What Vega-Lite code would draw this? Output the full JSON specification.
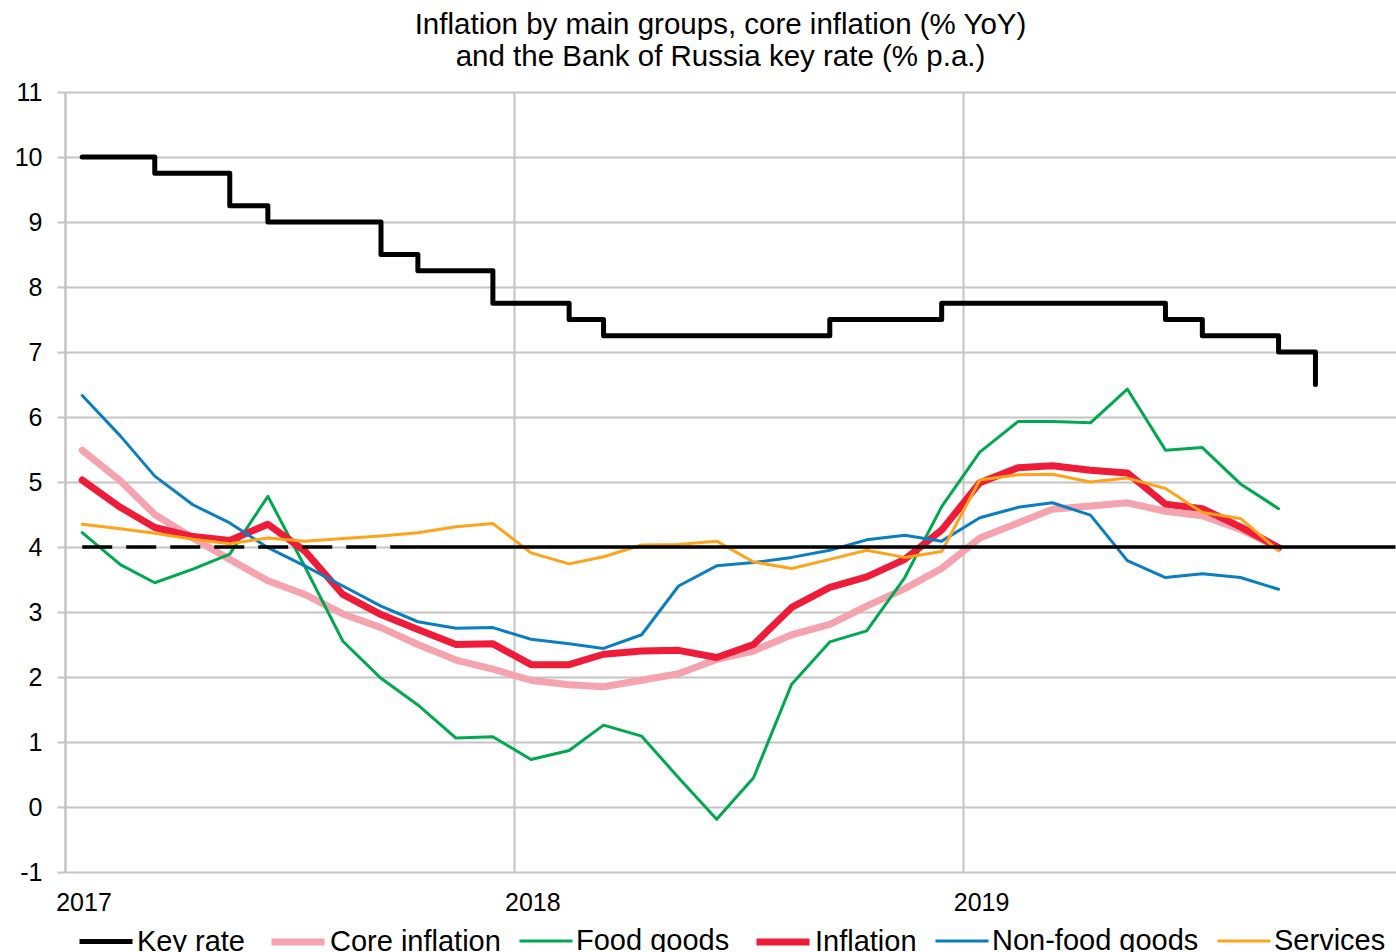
{
  "$schema": "https://vega.github.io/schema/vega-lite/v6.json",
  "autosize": {"type": "none"},
  "padding": {"left": 65, "top": 92, "right": 0, "bottom": 80},
  "width": 1331,
  "height": 780,
  "background": "white",
  "title": {
    "text": ["Inflation by main groups, core inflation (% YoY)", "and the Bank of Russia key rate (% p.a.)"],
    "font": "Liberation Sans",
    "fontSize": 29.5,
    "fontWeight": "normal",
    "color": "#000000",
    "lineHeight": 32,
    "anchor": "middle",
    "dx": -10,
    "offset": 8
  },
  "config": {
    "view": {"stroke": null},
    "axis": {"labelFont": "Liberation Sans", "labelFontSize": 25, "labelColor": "#000000", "gridColor": "#c4c4c4", "gridWidth": 2, "title": null},
    "legend": {"labelFont": "Liberation Sans", "labelFontSize": 29, "labelColor": "#000000", "labelLimit": 500}
  },
  "datasets": {
    "keyrate": [
      {"date": "2017-01-15", "series": "Key rate", "value": 10},
      {"date": "2017-02-15", "series": "Key rate", "value": 10},
      {"date": "2017-03-15", "series": "Key rate", "value": 9.75},
      {"date": "2017-04-15", "series": "Key rate", "value": 9.75},
      {"date": "2017-05-15", "series": "Key rate", "value": 9.25},
      {"date": "2017-06-15", "series": "Key rate", "value": 9},
      {"date": "2017-07-15", "series": "Key rate", "value": 9},
      {"date": "2017-08-15", "series": "Key rate", "value": 9},
      {"date": "2017-09-15", "series": "Key rate", "value": 8.5},
      {"date": "2017-10-15", "series": "Key rate", "value": 8.25},
      {"date": "2017-11-15", "series": "Key rate", "value": 8.25},
      {"date": "2017-12-15", "series": "Key rate", "value": 7.75},
      {"date": "2018-01-15", "series": "Key rate", "value": 7.75},
      {"date": "2018-02-15", "series": "Key rate", "value": 7.5},
      {"date": "2018-03-15", "series": "Key rate", "value": 7.25},
      {"date": "2018-04-15", "series": "Key rate", "value": 7.25},
      {"date": "2018-05-15", "series": "Key rate", "value": 7.25},
      {"date": "2018-06-15", "series": "Key rate", "value": 7.25},
      {"date": "2018-07-15", "series": "Key rate", "value": 7.25},
      {"date": "2018-08-15", "series": "Key rate", "value": 7.25},
      {"date": "2018-09-15", "series": "Key rate", "value": 7.5},
      {"date": "2018-10-15", "series": "Key rate", "value": 7.5},
      {"date": "2018-11-15", "series": "Key rate", "value": 7.5},
      {"date": "2018-12-15", "series": "Key rate", "value": 7.75},
      {"date": "2019-01-15", "series": "Key rate", "value": 7.75},
      {"date": "2019-02-15", "series": "Key rate", "value": 7.75},
      {"date": "2019-03-15", "series": "Key rate", "value": 7.75},
      {"date": "2019-04-15", "series": "Key rate", "value": 7.75},
      {"date": "2019-05-15", "series": "Key rate", "value": 7.75},
      {"date": "2019-06-15", "series": "Key rate", "value": 7.5},
      {"date": "2019-07-15", "series": "Key rate", "value": 7.25},
      {"date": "2019-08-15", "series": "Key rate", "value": 7.25},
      {"date": "2019-09-15", "series": "Key rate", "value": 7},
      {"date": "2019-10-15", "series": "Key rate", "value": 6.5}
    ],
    "groups": [
      {"date": "2017-01-15", "series": "Core inflation", "value": 5.49},
      {"date": "2017-02-15", "series": "Core inflation", "value": 5.02},
      {"date": "2017-03-15", "series": "Core inflation", "value": 4.5},
      {"date": "2017-04-15", "series": "Core inflation", "value": 4.14},
      {"date": "2017-05-15", "series": "Core inflation", "value": 3.81},
      {"date": "2017-06-15", "series": "Core inflation", "value": 3.48},
      {"date": "2017-07-15", "series": "Core inflation", "value": 3.27},
      {"date": "2017-08-15", "series": "Core inflation", "value": 2.97},
      {"date": "2017-09-15", "series": "Core inflation", "value": 2.76},
      {"date": "2017-10-15", "series": "Core inflation", "value": 2.5},
      {"date": "2017-11-15", "series": "Core inflation", "value": 2.26},
      {"date": "2017-12-15", "series": "Core inflation", "value": 2.12},
      {"date": "2018-01-15", "series": "Core inflation", "value": 1.95},
      {"date": "2018-02-15", "series": "Core inflation", "value": 1.88},
      {"date": "2018-03-15", "series": "Core inflation", "value": 1.85},
      {"date": "2018-04-15", "series": "Core inflation", "value": 1.95},
      {"date": "2018-05-15", "series": "Core inflation", "value": 2.05},
      {"date": "2018-06-15", "series": "Core inflation", "value": 2.27},
      {"date": "2018-07-15", "series": "Core inflation", "value": 2.4},
      {"date": "2018-08-15", "series": "Core inflation", "value": 2.65},
      {"date": "2018-09-15", "series": "Core inflation", "value": 2.81},
      {"date": "2018-10-15", "series": "Core inflation", "value": 3.09},
      {"date": "2018-11-15", "series": "Core inflation", "value": 3.36},
      {"date": "2018-12-15", "series": "Core inflation", "value": 3.67},
      {"date": "2019-01-15", "series": "Core inflation", "value": 4.14},
      {"date": "2019-02-15", "series": "Core inflation", "value": 4.37},
      {"date": "2019-03-15", "series": "Core inflation", "value": 4.58},
      {"date": "2019-04-15", "series": "Core inflation", "value": 4.63},
      {"date": "2019-05-15", "series": "Core inflation", "value": 4.68},
      {"date": "2019-06-15", "series": "Core inflation", "value": 4.55},
      {"date": "2019-07-15", "series": "Core inflation", "value": 4.48},
      {"date": "2019-08-15", "series": "Core inflation", "value": 4.27},
      {"date": "2019-09-15", "series": "Core inflation", "value": 3.99},
      {"date": "2017-01-15", "series": "Food goods", "value": 4.22},
      {"date": "2017-02-15", "series": "Food goods", "value": 3.73},
      {"date": "2017-03-15", "series": "Food goods", "value": 3.45},
      {"date": "2017-04-15", "series": "Food goods", "value": 3.66},
      {"date": "2017-05-15", "series": "Food goods", "value": 3.89},
      {"date": "2017-06-15", "series": "Food goods", "value": 4.78},
      {"date": "2017-07-15", "series": "Food goods", "value": 3.7},
      {"date": "2017-08-15", "series": "Food goods", "value": 2.55},
      {"date": "2017-09-15", "series": "Food goods", "value": 1.98},
      {"date": "2017-10-15", "series": "Food goods", "value": 1.57},
      {"date": "2017-11-15", "series": "Food goods", "value": 1.06},
      {"date": "2017-12-15", "series": "Food goods", "value": 1.08},
      {"date": "2018-01-15", "series": "Food goods", "value": 0.73},
      {"date": "2018-02-15", "series": "Food goods", "value": 0.87},
      {"date": "2018-03-15", "series": "Food goods", "value": 1.26},
      {"date": "2018-04-15", "series": "Food goods", "value": 1.09},
      {"date": "2018-05-15", "series": "Food goods", "value": 0.45},
      {"date": "2018-06-15", "series": "Food goods", "value": -0.19},
      {"date": "2018-07-15", "series": "Food goods", "value": 0.45},
      {"date": "2018-08-15", "series": "Food goods", "value": 1.89},
      {"date": "2018-09-15", "series": "Food goods", "value": 2.54},
      {"date": "2018-10-15", "series": "Food goods", "value": 2.71},
      {"date": "2018-11-15", "series": "Food goods", "value": 3.53},
      {"date": "2018-12-15", "series": "Food goods", "value": 4.62},
      {"date": "2019-01-15", "series": "Food goods", "value": 5.46},
      {"date": "2019-02-15", "series": "Food goods", "value": 5.93},
      {"date": "2019-03-15", "series": "Food goods", "value": 5.93},
      {"date": "2019-04-15", "series": "Food goods", "value": 5.91},
      {"date": "2019-05-15", "series": "Food goods", "value": 6.43},
      {"date": "2019-06-15", "series": "Food goods", "value": 5.49},
      {"date": "2019-07-15", "series": "Food goods", "value": 5.53},
      {"date": "2019-08-15", "series": "Food goods", "value": 4.97},
      {"date": "2019-09-15", "series": "Food goods", "value": 4.59},
      {"date": "2017-01-15", "series": "Inflation", "value": 5.03},
      {"date": "2017-02-15", "series": "Inflation", "value": 4.61},
      {"date": "2017-03-15", "series": "Inflation", "value": 4.3},
      {"date": "2017-04-15", "series": "Inflation", "value": 4.16},
      {"date": "2017-05-15", "series": "Inflation", "value": 4.1},
      {"date": "2017-06-15", "series": "Inflation", "value": 4.35},
      {"date": "2017-07-15", "series": "Inflation", "value": 3.94},
      {"date": "2017-08-15", "series": "Inflation", "value": 3.27},
      {"date": "2017-09-15", "series": "Inflation", "value": 2.96},
      {"date": "2017-10-15", "series": "Inflation", "value": 2.73},
      {"date": "2017-11-15", "series": "Inflation", "value": 2.5},
      {"date": "2017-12-15", "series": "Inflation", "value": 2.51},
      {"date": "2018-01-15", "series": "Inflation", "value": 2.19},
      {"date": "2018-02-15", "series": "Inflation", "value": 2.19},
      {"date": "2018-03-15", "series": "Inflation", "value": 2.35},
      {"date": "2018-04-15", "series": "Inflation", "value": 2.4},
      {"date": "2018-05-15", "series": "Inflation", "value": 2.41},
      {"date": "2018-06-15", "series": "Inflation", "value": 2.3},
      {"date": "2018-07-15", "series": "Inflation", "value": 2.5},
      {"date": "2018-08-15", "series": "Inflation", "value": 3.07},
      {"date": "2018-09-15", "series": "Inflation", "value": 3.38},
      {"date": "2018-10-15", "series": "Inflation", "value": 3.54},
      {"date": "2018-11-15", "series": "Inflation", "value": 3.81},
      {"date": "2018-12-15", "series": "Inflation", "value": 4.26},
      {"date": "2019-01-15", "series": "Inflation", "value": 4.99},
      {"date": "2019-02-15", "series": "Inflation", "value": 5.22},
      {"date": "2019-03-15", "series": "Inflation", "value": 5.25},
      {"date": "2019-04-15", "series": "Inflation", "value": 5.18},
      {"date": "2019-05-15", "series": "Inflation", "value": 5.14},
      {"date": "2019-06-15", "series": "Inflation", "value": 4.66},
      {"date": "2019-07-15", "series": "Inflation", "value": 4.59},
      {"date": "2019-08-15", "series": "Inflation", "value": 4.31},
      {"date": "2019-09-15", "series": "Inflation", "value": 3.99},
      {"date": "2017-01-15", "series": "Non-food goods", "value": 6.33},
      {"date": "2017-02-15", "series": "Non-food goods", "value": 5.71},
      {"date": "2017-03-15", "series": "Non-food goods", "value": 5.09},
      {"date": "2017-04-15", "series": "Non-food goods", "value": 4.65},
      {"date": "2017-05-15", "series": "Non-food goods", "value": 4.37},
      {"date": "2017-06-15", "series": "Non-food goods", "value": 3.99},
      {"date": "2017-07-15", "series": "Non-food goods", "value": 3.71},
      {"date": "2017-08-15", "series": "Non-food goods", "value": 3.4},
      {"date": "2017-09-15", "series": "Non-food goods", "value": 3.09},
      {"date": "2017-10-15", "series": "Non-food goods", "value": 2.85},
      {"date": "2017-11-15", "series": "Non-food goods", "value": 2.75},
      {"date": "2017-12-15", "series": "Non-food goods", "value": 2.76},
      {"date": "2018-01-15", "series": "Non-food goods", "value": 2.58},
      {"date": "2018-02-15", "series": "Non-food goods", "value": 2.51},
      {"date": "2018-03-15", "series": "Non-food goods", "value": 2.44},
      {"date": "2018-04-15", "series": "Non-food goods", "value": 2.65},
      {"date": "2018-05-15", "series": "Non-food goods", "value": 3.4},
      {"date": "2018-06-15", "series": "Non-food goods", "value": 3.71},
      {"date": "2018-07-15", "series": "Non-food goods", "value": 3.76},
      {"date": "2018-08-15", "series": "Non-food goods", "value": 3.84},
      {"date": "2018-09-15", "series": "Non-food goods", "value": 3.95},
      {"date": "2018-10-15", "series": "Non-food goods", "value": 4.11},
      {"date": "2018-11-15", "series": "Non-food goods", "value": 4.18},
      {"date": "2018-12-15", "series": "Non-food goods", "value": 4.09},
      {"date": "2019-01-15", "series": "Non-food goods", "value": 4.45},
      {"date": "2019-02-15", "series": "Non-food goods", "value": 4.61},
      {"date": "2019-03-15", "series": "Non-food goods", "value": 4.68},
      {"date": "2019-04-15", "series": "Non-food goods", "value": 4.49},
      {"date": "2019-05-15", "series": "Non-food goods", "value": 3.79},
      {"date": "2019-06-15", "series": "Non-food goods", "value": 3.53},
      {"date": "2019-07-15", "series": "Non-food goods", "value": 3.59},
      {"date": "2019-08-15", "series": "Non-food goods", "value": 3.53},
      {"date": "2019-09-15", "series": "Non-food goods", "value": 3.35},
      {"date": "2017-01-15", "series": "Services", "value": 4.35},
      {"date": "2017-02-15", "series": "Services", "value": 4.28},
      {"date": "2017-03-15", "series": "Services", "value": 4.21},
      {"date": "2017-04-15", "series": "Services", "value": 4.12},
      {"date": "2017-05-15", "series": "Services", "value": 4.05},
      {"date": "2017-06-15", "series": "Services", "value": 4.14},
      {"date": "2017-07-15", "series": "Services", "value": 4.09},
      {"date": "2017-08-15", "series": "Services", "value": 4.13},
      {"date": "2017-09-15", "series": "Services", "value": 4.17},
      {"date": "2017-10-15", "series": "Services", "value": 4.22},
      {"date": "2017-11-15", "series": "Services", "value": 4.31},
      {"date": "2017-12-15", "series": "Services", "value": 4.36},
      {"date": "2018-01-15", "series": "Services", "value": 3.91},
      {"date": "2018-02-15", "series": "Services", "value": 3.74},
      {"date": "2018-03-15", "series": "Services", "value": 3.85},
      {"date": "2018-04-15", "series": "Services", "value": 4.03},
      {"date": "2018-05-15", "series": "Services", "value": 4.04},
      {"date": "2018-06-15", "series": "Services", "value": 4.09},
      {"date": "2018-07-15", "series": "Services", "value": 3.77},
      {"date": "2018-08-15", "series": "Services", "value": 3.67},
      {"date": "2018-09-15", "series": "Services", "value": 3.81},
      {"date": "2018-10-15", "series": "Services", "value": 3.95},
      {"date": "2018-11-15", "series": "Services", "value": 3.84},
      {"date": "2018-12-15", "series": "Services", "value": 3.93},
      {"date": "2019-01-15", "series": "Services", "value": 5.03},
      {"date": "2019-02-15", "series": "Services", "value": 5.11},
      {"date": "2019-03-15", "series": "Services", "value": 5.12},
      {"date": "2019-04-15", "series": "Services", "value": 5.0},
      {"date": "2019-05-15", "series": "Services", "value": 5.06},
      {"date": "2019-06-15", "series": "Services", "value": 4.9},
      {"date": "2019-07-15", "series": "Services", "value": 4.53},
      {"date": "2019-08-15", "series": "Services", "value": 4.44},
      {"date": "2019-09-15", "series": "Services", "value": 3.94}
    ],
    "targetDashed": [
      {"date": "2017-01-15", "value": 4},
      {"date": "2017-10-15", "value": 4}
    ],
    "targetSolid": [
      {"date": "2017-10-15", "value": 4},
      {"date": "2019-12-19", "value": 4}
    ]
  },
  "encoding": {
    "x": {
      "field": "date",
      "type": "temporal",
      "scale": {"type": "utc", "domain": [{"year": 2017, "month": 1, "date": 1, "utc": true}, {"year": 2019, "month": 12, "date": 19, "hours": 12, "utc": true}]},
      "axis": {
        "values": [{"year": 2017, "month": 1, "date": 1, "utc": true}, {"year": 2018, "month": 1, "date": 1, "utc": true}, {"year": 2019, "month": 1, "date": 1, "utc": true}],
        "format": "%Y",
        "labelOffset": 18.5,
        "labelAlign": "center",
        "labelFlush": false,
        "labelPadding": 18,
        "ticks": false,
        "domain": false,
        "grid": true
      }
    },
    "y": {
      "field": "value",
      "type": "quantitative",
      "scale": {"domain": [-1, 11], "nice": false, "zero": false},
      "axis": {
        "values": [-1, 0, 1, 2, 3, 4, 5, 6, 7, 8, 9, 10, 11],
        "labelExpr": "datum.value + ''",
        "grid": true,
        "domain": true,
        "domainColor": "#c4c4c4",
        "domainWidth": 2,
        "ticks": true,
        "tickSize": 8,
        "tickWidth": 2,
        "tickColor": "#c4c4c4",
        "labelPadding": 15
      }
    }
  },
  "layer": [
    {
      "data": {"name": "keyrate"},
      "mark": {"type": "line", "interpolate": "step-after", "strokeCap": "round", "strokeJoin": "round"},
      "encoding": {
        "color": {"field": "series", "type": "nominal", "title": null,
          "scale": {"domain": ["Key rate", "Core inflation", "Food goods", "Inflation", "Non-food goods", "Services"], "range": ["#000000", "#f5a3ae", "#00a94f", "#ee1b39", "#0a7ec2", "#ffa31a"]},
          "legend": {"orient": "none", "legendX": 12, "legendY": 820, "direction": "horizontal", "symbolType": "stroke", "symbolSize": 2809, "labelOffset": 2, "columnPadding": 12, "padding": 0}},
        "strokeWidth": {"field": "series", "type": "nominal", "title": null,
          "scale": {"type": "ordinal", "domain": ["Key rate", "Core inflation", "Food goods", "Inflation", "Non-food goods", "Services"], "range": [5, 7, 3, 7, 3, 3]},
          "legend": {"orient": "none", "legendX": 12, "legendY": 820, "direction": "horizontal", "symbolType": "stroke", "symbolSize": 2809, "labelOffset": 2, "columnPadding": 12, "padding": 0}}
      }
    },
    {
      "data": {"name": "groups"},
      "mark": {"type": "line", "strokeCap": "round", "strokeJoin": "round"},
      "encoding": {
        "color": {"field": "series", "type": "nominal", "title": null,
          "scale": {"domain": ["Key rate", "Core inflation", "Food goods", "Inflation", "Non-food goods", "Services"], "range": ["#000000", "#f5a3ae", "#00a94f", "#ee1b39", "#0a7ec2", "#ffa31a"]},
          "legend": {"orient": "none", "legendX": 12, "legendY": 820, "direction": "horizontal", "symbolType": "stroke", "symbolSize": 2809, "labelOffset": 2, "columnPadding": 12, "padding": 0}},
        "strokeWidth": {"field": "series", "type": "nominal", "title": null,
          "scale": {"type": "ordinal", "domain": ["Key rate", "Core inflation", "Food goods", "Inflation", "Non-food goods", "Services"], "range": [5, 7, 3, 7, 3, 3]},
          "legend": {"orient": "none", "legendX": 12, "legendY": 820, "direction": "horizontal", "symbolType": "stroke", "symbolSize": 2809, "labelOffset": 2, "columnPadding": 12, "padding": 0}}
      }
    },
    {
      "data": {"name": "targetDashed"},
      "mark": {"type": "line", "color": "#000000", "strokeWidth": 3.5, "strokeDash": [30, 14]},
      "encoding": {}
    },
    {
      "data": {"name": "targetSolid"},
      "mark": {"type": "line", "color": "#000000", "strokeWidth": 3.5},
      "encoding": {}
    }
  ]
}
